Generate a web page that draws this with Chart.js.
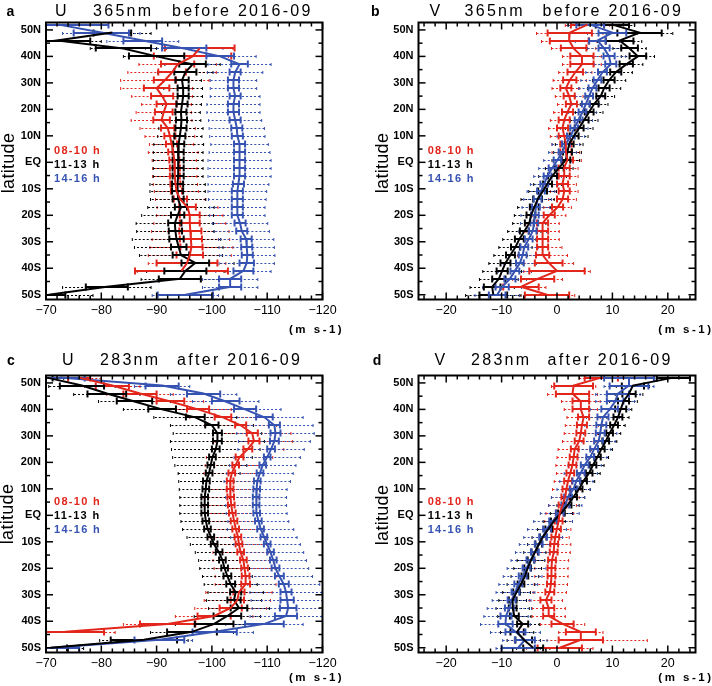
<!DOCTYPE html>
<html>
<head>
<meta charset="utf-8">
<script src="https://cdn.jsdelivr.net/npm/chart.js@4"></script>
<style>
  body { margin: 0; background: #fff; }
  #wrap { position: relative; width: 712px; height: 686px; overflow: hidden; }
  canvas { position: absolute; }
</style>
</head>
<body>
<div id="wrap">
  <canvas id="pa"></canvas>
  <canvas id="pb"></canvas>
  <canvas id="pc"></canvas>
  <canvas id="pd"></canvas>
</div>
<script>
// latitude of each bin centre (deg, + = N)
const lats = [52, 49, 46, 43, 40, 37, 34, 31, 28, 25, 22, 19, 16, 13, 10, 7, 4, 1,
  -2, -5, -8, -11, -14, -17, -20, -23, -26, -29, -32, -35, -38, -41, -44, -47, -50];

const latTicks = [50, 40, 30, 20, 10, 0, -10, -20, -30, -40, -50];
const uTicks = [-70, -80, -90, -100, -110, -120];
const vTicks = [-20, -10, 0, 10, 20];
const seriesNames = ["08-10 h", "11-13 h", "14-16 h"];

// panel a : U 365nm before 2016-09  (mean, thick bar half width, dotted half width)
const aRedMean = [null, null, null, -97.8, -96.5, -93.8, -92.8, -91.5, -90.0, -91.0, -91.8, -91.3, -90.9, -92.0, -92.4, -92.7, -93.0, -93.2, -93.3, -93.3, -93.4, -93.6, -94.3, -95.6, -96.0, -96.0, -96.1, -96.2, -96.3, -96.0, -95.5, -94.5, null, null, null];
const aRedSe = [null, null, null, 6.3, 7, 3, 2.5, 2, 2.3, 2, 1.8, 1.6, 1.5, 1.2, 1, 1, 0.9, 0.9, 0.9, 0.9, 0.9, 1, 1.2, 1.5, 1.8, 1.8, 2, 2, 2, 2.4, 5.5, 8.4, null, null, null];
const aRedSd = [null, null, null, 6, 6.5, 7, 8, 8, 6.5, 5.5, 4.5, 5, 5.5, 5, 4.5, 4, 4.5, 4, 4, 4, 4, 4, 4.5, 5.5, 6, 6.5, 7, 7, 7.5, 7.5, 7, 8, null, null, null];
const aBlackMean = [null, -82, -72, -84, -90, -96.5, -95.2, -94.6, -94.8, -94.8, -94.6, -94.4, -94.5, -94.4, -94.2, -94.0, -93.9, -93.9, -93.9, -93.9, -93.8, -93.8, -93.9, -94.4, -93.8, -93.3, -93.4, -93.6, -94.0, -94.4, -97.0, -95.2, -94.2, -81, -70.5];
const aBlackSe = [null, 3.4, 6, 5, 5, 2.4, 2, 1.2, 1, 1, 1, 1, 1, 1, 1, 1, 1, 1, 1, 1, 1, 1, 1, 1.1, 1.2, 1.2, 1.2, 1.3, 1.4, 1.5, 2.5, 3.8, 3.8, 3.8, 3];
const aBlackSd = [null, 7, 8, 6, 6, 5, 5, 3.5, 3.5, 3.5, 3.5, 3.5, 3.5, 4, 4, 4.5, 4.5, 4.5, 4.5, 4.5, 5, 5, 5, 6, 6.5, 7, 7, 8, 8, 7.5, 7, 7, 7, 8, 8];
const aBlueMean = [-72.3, -80, -87.5, -95, -101.5, -105, -104.2, -103.9, -103.9, -104.2, -103.9, -103.9, -104.2, -104.5, -104.6, -105, -105, -105, -105, -105, -104.8, -104.6, -104.6, -104.6, -104.6, -105.1, -105.4, -106.2, -106.3, -106.4, -106.3, -105.7, -103.3, -103.3, -95.2];
const aBlueSe = [9, 5, 3.5, 4, 2.5, 1.5, 1, 1, 1, 1, 1, 1, 1, 1, 1, 1, 1, 1, 1, 1, 1, 1, 1, 1, 1, 1, 1, 1, 1, 1, 1.3, 1.8, 2, 2, 5];
const aBlueSd = [9, 7, 6.5, 7, 6.5, 5.7, 5, 4.2, 4.2, 4.5, 4.8, 4.8, 4.8, 5, 5, 5.2, 5.5, 5.7, 5.7, 5.7, 5.5, 5.3, 5.2, 5, 5, 5, 5, 5, 5, 5, 5, 5, 5, 5, 6];

// panel b : V 365nm before 2016-09
const bRedMean = [5.5, 2.3, 2.2, 3.0, 4.5, 4.5, 3.3, 2.3, 1.6, 2.2, 2.6, 1.9, 1.3, 1.0, 1.3, 1.6, 1.6, 1.9, 1.3, 1.3, 1.0, 1.3, 1.0, 0.1, -1.4, -2.6, -2.6, -2.6, -2.6, -2.6, -1.5, 0.0, -3.5, -6.5, -1.8];
const bRedSe = [3, 4, 3.5, 2.3, 2.1, 2.1, 1.4, 1.2, 1, 1, 1, 1, 1, 1, 1, 1, 1, 1, 1, 1, 1, 1, 1, 1, 1, 1, 1, 1, 1, 1.2, 2.5, 5, 3, 3.2, 4];
const bRedSd = [4, 6, 5, 4, 3.5, 3.5, 3, 3, 2.5, 2.5, 2.5, 2.5, 2.5, 2.5, 2.5, 2.5, 2.5, 2.5, 2.5, 2.5, 2.5, 2.5, 2.5, 2.5, 3, 3, 3, 3, 3.5, 4.5, 4.5, 6, 4.5, 4.5, 5];
const bBlackMean = [10, 14.9, 11.3, 13.1, 14.6, 12.5, 10.6, 9.4, 8.5, 7.9, 6.7, 5.8, 4.9, 4.0, 3.1, 2.2, 1.9, 1.6, 0.4, -0.8, -1.7, -2.6, -3.5, -4.1, -4.7, -5.0, -5.9, -6.8, -7.5, -8.4, -9.3, -9.9, -10.5, -11.7, -11.5];
const bBlackSe = [3, 4, 2.5, 1.5, 1.5, 1.2, 1, 1, 1, 0.8, 0.8, 0.8, 0.8, 0.8, 0.8, 0.8, 0.8, 0.8, 0.8, 0.8, 0.8, 0.8, 0.8, 0.8, 0.8, 0.8, 0.8, 0.8, 0.8, 0.8, 0.9, 1, 1.2, 1.5, 2.5];
const bBlackSd = [4, 6, 4, 3, 3, 3, 3, 3, 3, 2.5, 2.5, 2.5, 2.5, 2.5, 2.5, 2.5, 2.5, 2.5, 2.5, 2.5, 2.5, 2.5, 3, 3, 3, 3, 3, 3, 3, 3, 3, 3.5, 3.5, 4, 5];
const bBlueMean = [6, 10, 7.3, 8.5, 9.4, 9.7, 8.2, 7.3, 6.4, 5.8, 5.2, 4.6, 3.9, 3.1, 2.5, 1.6, 1.0, 0.1, -0.8, -1.7, -2.3, -2.9, -3.5, -3.8, -4.0, -4.1, -4.4, -5.1, -5.9, -6.2, -6.7, -7.6, -8.5, -9.9, -10.8];
const bBlueSe = [2.5, 2.5, 1.5, 1, 1, 1, 0.8, 0.7, 0.7, 0.7, 0.7, 0.7, 0.7, 0.7, 0.7, 0.7, 0.7, 0.7, 0.7, 0.7, 0.7, 0.7, 0.7, 0.7, 0.7, 0.7, 0.7, 0.7, 0.7, 0.7, 0.7, 0.8, 1, 1.2, 1.5];
const bBlueSd = [4, 4.5, 4, 3, 3, 3, 3, 3, 2.5, 2.5, 2.5, 2.5, 2.5, 2.5, 2.5, 2.5, 2.5, 2.5, 2.5, 2.5, 2.5, 2.5, 2.5, 2.5, 2.5, 2.5, 2.5, 2.5, 2.5, 2.5, 3, 3, 3, 3.5, 4];

// panel c : U 283nm after 2016-09
const cRedMean = [-76, -82, -87, -92.5, -97.5, -102, -105.2, -107.3, -107.6, -106.5, -105, -104.3, -103.6, -103.3, -103.3, -103.4, -103.5, -103.7, -104, -104.3, -104.7, -104.9, -105.2, -105.7, -105.9, -106.1, -106.1, -104.9, -104.6, -103.4, -100.4, -92, -73.5, null, null];
const cRedSe = [2, 3, 3, 2.5, 2, 1.5, 1, 1, 1, 0.8, 0.7, 0.6, 0.6, 0.6, 0.6, 0.6, 0.6, 0.6, 0.6, 0.6, 0.6, 0.6, 0.6, 0.6, 0.6, 0.7, 0.8, 1, 1.2, 2, 3, 5, 7, null, null];
const cRedSd = [4, 5, 6, 6, 6, 6, 6.5, 7, 7, 6.5, 6, 5.5, 5, 5, 5, 5, 5, 5, 5, 5, 5, 5, 5, 5.5, 5.5, 5.5, 5.5, 6, 6, 6.5, 7, 8, 9, null, null];
const cBlackMean = [-70.2, -76.5, -81, -86, -91, -97, -100, -101, -101, -100.7, -100.1, -99.8, -99.5, -99, -98.9, -98.7, -98.7, -98.7, -98.9, -99.2, -99.8, -100.4, -101.3, -101.9, -102.3, -102.8, -103.4, -104.3, -104, -104.9, -102.8, -100.4, -96.4, -87.7, -70.8];
const cBlackSe = [1, 4, 3.5, 3.2, 2.5, 1.7, 1.2, 0.8, 0.8, 0.7, 0.6, 0.6, 0.6, 0.6, 0.6, 0.6, 0.6, 0.6, 0.6, 0.6, 0.6, 0.6, 0.6, 0.6, 0.6, 0.7, 0.8, 1, 1.2, 1.5, 2.5, 3.5, 4.5, 6, 3];
const cBlackSd = [3, 6, 6, 6.5, 7, 7.5, 7.5, 8, 8.5, 8, 7.2, 6.5, 5.6, 5, 4.8, 4.5, 4.5, 4.5, 4.5, 4.5, 4.3, 4.3, 4.3, 4.3, 4.5, 4.5, 4.8, 5, 5, 5.5, 6, 7, 7.5, 8, 6];
const cBlueMean = [-72.5, -91, -98.5, -102.5, -106, -109.5, -111.3, -111.5, -111.3, -110.7, -110, -109.2, -108.7, -108.2, -108.1, -108, -108, -108.1, -108.4, -108.8, -109.4, -110, -110.6, -111.1, -111.5, -112.2, -113, -113.4, -113.6, -113.8, -113.4, -109.5, -100.5, -90.5, -71];
const cBlueSe = [4.5, 3, 3, 2.5, 2, 1.5, 1, 0.9, 0.8, 0.7, 0.6, 0.6, 0.6, 0.6, 0.6, 0.6, 0.6, 0.6, 0.6, 0.6, 0.6, 0.6, 0.6, 0.6, 0.7, 0.8, 0.9, 1, 1.2, 1.5, 2, 3.5, 4, 4.5, 5];
const cBlueSd = [5, 5, 6, 6, 6.5, 7, 7, 7, 6.5, 6, 6, 6, 6, 6, 5.5, 5.5, 5.5, 5.5, 5.5, 6, 6, 6, 6, 6, 6, 6, 6.5, 6.5, 6.5, 6.5, 6.5, 7, 7, 6, 5];

// panel d : V 283nm after 2016-09
const dRedMean = [8, 3.0, 2.8, 4.3, 4.3, 4.8, 4.5, 4.3, 4.0, 3.2, 3.0, 2.8, 2.4, 2.0, 1.7, 1.5, 1.0, 0.5, 0.3, 0, -0.3, -0.5, -0.6, -0.9, -1.0, -1.0, -1.1, -1.3, -2.0, -1.5, -1.5, 1.0, 4.3, 4.3, 0.5];
const dRedSe = [3, 3.5, 3, 1.5, 1.5, 1, 0.9, 0.8, 0.8, 0.7, 0.7, 0.7, 0.7, 0.7, 0.7, 0.7, 0.7, 0.7, 0.7, 0.7, 0.7, 0.7, 0.7, 0.7, 0.7, 0.7, 0.7, 0.8, 1, 1, 1, 2, 2.7, 4, 4];
const dRedSd = [4, 4, 4.5, 3.5, 3, 3, 3, 3, 3, 3, 3, 3, 2.5, 2.5, 2.5, 2.5, 2.5, 2.5, 2.5, 2.5, 2.5, 3, 3, 3, 3, 3, 3, 3, 3, 3, 3, 4, 4, 12, 6];
const dBlackMean = [21, 13.7, 13, 12, 11.5, 11, 10.3, 9.5, 8.8, 8.0, 7.3, 6.5, 5.8, 4.8, 4.0, 3.0, 2.0, 0.8, -0.5, -1.5, -2.5, -3.3, -4.0, -4.7, -5.3, -5.8, -6.5, -7.3, -8.0, -8.0, -7.7, -6.2, -7.2, -6.0, -4.3];
const dBlackSe = [3, 2, 1.2, 1, 1, 0.8, 0.7, 0.6, 0.6, 0.6, 0.6, 0.6, 0.6, 0.6, 0.6, 0.6, 0.6, 0.6, 0.6, 0.6, 0.6, 0.6, 0.6, 0.6, 0.6, 0.6, 0.6, 0.6, 0.7, 0.7, 0.8, 1, 1.2, 1.5, 1.8];
const dBlackSd = [3, 3, 2.5, 2.5, 2, 2, 2, 2, 2, 2, 2, 2, 2, 2, 2, 2, 2, 2, 2, 2, 2, 2, 2, 2.5, 2.5, 2.5, 2.5, 2.5, 2.5, 3, 3, 3, 3, 3, 3];
const dBlueMean = [13, 13, 11, 10.5, 9.5, 8.3, 8.0, 7.8, 7.5, 6.7, 6.0, 5.0, 4.3, 3.5, 3.0, 2.0, 1.5, 0.5, -0.7, -1.8, -2.5, -3.3, -4.0, -4.8, -5.5, -6.2, -7.0, -7.5, -8.2, -8.6, -9.2, -9.3, -7.5, -5.8, -7.0];
const dBlueSe = [4.5, 3.5, 2, 1.5, 1.5, 1, 0.9, 0.8, 0.8, 0.7, 0.7, 0.7, 0.7, 0.7, 0.7, 0.7, 0.7, 0.7, 0.7, 0.7, 0.7, 0.7, 0.7, 0.7, 0.7, 0.7, 0.7, 0.7, 0.7, 0.8, 1, 1.3, 1.8, 1.8, 3];
const dBlueSd = [5, 4.5, 4, 3.5, 3.5, 3, 3, 3, 3, 3, 3, 3, 3, 3, 3, 3, 3, 3.5, 3.5, 3.5, 3.5, 3.5, 3.5, 3.5, 3.5, 3.5, 3.5, 3.5, 3.5, 4, 4, 4.5, 4.5, 4, 4];

const RED = "#e2261c", BLACK = "#000000", BLUE = "#3753b2";
const FONT = "'Liberation Sans', Arial, sans-serif";

const panels = [
  {
    id: "pa", left: 0, top: 0, w: 356, h: 340, plot: { l: 46, r: 322.5, t: 22.5, b: 299.5 },
    xMin: -120, xMax: -70, reverse: true, xTicks: uTicks, letter: "a", letterPos: [6.5, 15.5],
    title: [["U", 9], ["365nm", 47], ["before 2016-09", 126]], titleY: 16,
    legendX: 54, legendY: [154, 167.7, 181.7], latX: 14, latY: 163, unitX: 341.7, unitY: 333,
    series: [
      { color: RED, mean: aRedMean, se: aRedSe, sd: aRedSd },
      { color: BLACK, mean: aBlackMean, se: aBlackSe, sd: aBlackSd },
      { color: BLUE, mean: aBlueMean, se: aBlueSe, sd: aBlueSd }
    ]
  },
  {
    id: "pb", left: 356, top: 0, w: 356, h: 340, plot: { l: 62.5, r: 339.5, t: 22.5, b: 299.5 },
    xMin: -25, xMax: 25, reverse: false, xTicks: vTicks, letter: "b", letterPos: [15, 15.5],
    title: [["V", 11], ["365nm", 46], ["before 2016-09", 124]], titleY: 16,
    legendX: 71.7, legendY: [154, 167.7, 181.7], latX: 31.7, latY: 163, unitX: 355, unitY: 333,
    series: [
      { color: RED, mean: bRedMean, se: bRedSe, sd: bRedSd },
      { color: BLACK, mean: bBlackMean, se: bBlackSe, sd: bBlackSd },
      { color: BLUE, mean: bBlueMean, se: bBlueSe, sd: bBlueSd }
    ]
  },
  {
    id: "pc", left: 0, top: 340, w: 356, h: 346, plot: { l: 46, r: 322.5, t: 35.5, b: 312.5 },
    xMin: -120, xMax: -70, reverse: true, xTicks: uTicks, letter: "c", letterPos: [7, 25],
    title: [["U", 16], ["283nm", 54], ["after 2016-09", 131]], titleY: 25,
    legendX: 54, legendY: [165, 179.3, 193.3], latX: 13.3, latY: 174, unitX: 341.7, unitY: 341,
    series: [
      { color: RED, mean: cRedMean, se: cRedSe, sd: cRedSd },
      { color: BLACK, mean: cBlackMean, se: cBlackSe, sd: cBlackSd },
      { color: BLUE, mean: cBlueMean, se: cBlueSe, sd: cBlueSd }
    ]
  },
  {
    id: "pd", left: 356, top: 340, w: 356, h: 346, plot: { l: 62.5, r: 339.5, t: 35.5, b: 312.5 },
    xMin: -25, xMax: 25, reverse: false, xTicks: vTicks, letter: "d", letterPos: [16.7, 25],
    title: [["V", 16], ["283nm", 52.5], ["after 2016-09", 129]], titleY: 25,
    legendX: 71.7, legendY: [165, 179.3, 193.3], latX: 31.7, latY: 175, unitX: 355, unitY: 341,
    series: [
      { color: RED, mean: dRedMean, se: dRedSe, sd: dRedSd },
      { color: BLACK, mean: dBlackMean, se: dBlackSe, sd: dBlackSd },
      { color: BLUE, mean: dBlueMean, se: dBlueSe, sd: dBlueSd }
    ]
  }
];

function latLabel(v) {
  if (v === 0) return "EQ";
  return v > 0 ? v + "N" : (-v) + "S";
}

function numLabel(v) {
  return v < 0 ? "\u2212" + (-v) : String(v);
}

function hLine(ctx, x1, x2, y) {
  ctx.beginPath();
  ctx.moveTo(x1, y);
  ctx.lineTo(x2, y);
  ctx.stroke();
}

function vLine(ctx, x, y1, y2) {
  ctx.beginPath();
  ctx.moveTo(x, y1);
  ctx.lineTo(x, y2);
  ctx.stroke();
}

function drawBars(ctx, xs, ys, s, half, dotted) {
  ctx.strokeStyle = s.color;
  lats.forEach((lat, i) => {
    const m = s.mean[i], h = half[i];
    if (m === null || h === null) return;
    const py = Math.round(ys.getPixelForValue(lat)) + (dotted ? 0.5 : 0);
    const x1 = xs.getPixelForValue(m - h);
    const x2 = xs.getPixelForValue(m + h);
    if (dotted) {
      ctx.lineWidth = 1;
      ctx.setLineDash([2, 2]);
      hLine(ctx, x1, x2, py);
      ctx.setLineDash([]);
      vLine(ctx, x1, py - 1.5, py + 1.5);
      vLine(ctx, x2, py - 1.5, py + 1.5);
    } else {
      ctx.lineWidth = 2;
      hLine(ctx, x1, x2, py);
      vLine(ctx, x1, py - 3.5, py + 3.5);
      vLine(ctx, x2, py - 3.5, py + 3.5);
    }
  });
}

function makePlugin(p) {
  return {
    id: "panelDecor",
    beforeDatasetsDraw(chart) {
      const { ctx, chartArea: ca, scales: { x, y } } = chart;
      ctx.save();
      ctx.beginPath();
      ctx.rect(ca.left, ca.top, ca.right - ca.left, ca.bottom - ca.top);
      ctx.clip();
      p.series.forEach(s => drawBars(ctx, x, y, s, s.sd, true));
      p.series.forEach(s => drawBars(ctx, x, y, s, s.se, false));
      ctx.restore();
    },
    afterDatasetsDraw(chart) {
      const { ctx, chartArea: ca, scales: { x, y } } = chart;
      ctx.save();
      ctx.strokeStyle = "#000";
      ctx.lineWidth = 1.5;
      // inward tick marks on all four sides
      for (let v = Math.ceil(p.xMin / 2) * 2; v <= p.xMax; v += 2) {
        const px = x.getPixelForValue(v);
        const len = v % 10 === 0 ? 7 : 4;
        vLine(ctx, px, ca.bottom, ca.bottom - len);
        vLine(ctx, px, ca.top, ca.top + len);
      }
      for (let v = -50; v <= 50; v += 5) {
        const py = y.getPixelForValue(v);
        const len = v % 10 === 0 ? 7 : 4;
        hLine(ctx, ca.left, ca.left + len, py);
        hLine(ctx, ca.right, ca.right - len, py);
      }
      ctx.lineWidth = 2;
      ctx.strokeRect(ca.left, ca.top, ca.right - ca.left, ca.bottom - ca.top);
      ctx.restore();
    },
    afterDraw(chart) {
      const ctx = chart.ctx;
      ctx.save();
      ctx.textBaseline = "alphabetic";
      ctx.textAlign = "left";
      ctx.fillStyle = "#000";

      ctx.font = "bold 14px " + FONT;
      ctx.fillText(p.letter, p.letterPos[0], p.letterPos[1]);

      ctx.font = "16px " + FONT;
      ctx.letterSpacing = "2.3px";
      p.title.forEach(([t, dx]) => ctx.fillText(t, p.plot.l + dx, p.titleY));

      ctx.font = "bold 11px " + FONT;
      ctx.letterSpacing = "1.3px";
      p.series.forEach((s, i) => {
        ctx.fillStyle = s.color;
        ctx.fillText(seriesNames[i], p.legendX, p.legendY[i]);
      });

      ctx.fillStyle = "#000";
      ctx.font = "bold 11.5px " + FONT;
      ctx.letterSpacing = "2.5px";
      ctx.textAlign = "right";
      ctx.fillText("(m s-1)", p.unitX + 2.5, p.unitY);

      ctx.letterSpacing = "0.3px";
      ctx.font = "18px " + FONT;
      ctx.textAlign = "center";
      ctx.translate(p.latX, p.latY);
      ctx.rotate(-Math.PI / 2);
      ctx.fillText("latitude", 0, 0);
      ctx.restore();
    }
  };
}

panels.forEach(p => {
  const cv = document.getElementById(p.id);
  cv.width = p.w;
  cv.height = p.h;
  cv.style.left = p.left + "px";
  cv.style.top = p.top + "px";

  const datasets = p.series.map((s, i) => ({
    label: seriesNames[i],
    data: lats.map((lat, k) => ({ x: s.mean[k], y: lat })).filter(pt => pt.x !== null),
    borderColor: s.color,
    backgroundColor: s.color,
    borderWidth: 2,
    pointRadius: 0,
    tension: 0,
    clip: 0
  }));

  new Chart(cv, {
    type: "line",
    data: { datasets },
    options: {
      responsive: false,
      animation: false,
      devicePixelRatio: 1,
      layout: { padding: { left: 0, top: p.plot.t, right: p.w - p.plot.r, bottom: 0 } },
      plugins: { legend: { display: false }, tooltip: { enabled: false }, title: { display: false } },
      scales: {
        x: {
          type: "linear",
          min: p.xMin,
          max: p.xMax,
          reverse: p.reverse,
          afterFit: s => { s.height = p.h - p.plot.b; },
          afterBuildTicks: s => { s.ticks = p.xTicks.map(v => ({ value: v })); },
          grid: { display: false, drawTicks: false },
          border: { display: false },
          ticks: {
            autoSkip: false, maxRotation: 0, padding: 4, color: "#000",
            font: { family: FONT, size: 12.5 },
            callback: v => numLabel(v)
          }
        },
        y: {
          type: "linear",
          min: -51.8,
          max: 52.8,
          afterFit: s => { s.width = p.plot.l; },
          afterBuildTicks: s => { s.ticks = latTicks.map(v => ({ value: v })); },
          grid: { display: false, drawTicks: false },
          border: { display: false },
          ticks: {
            autoSkip: false, padding: 5, color: "#000",
            font: { family: FONT, size: 11, weight: "bold" },
            callback: v => latLabel(v)
          }
        }
      }
    },
    plugins: [makePlugin(p)]
  });
});
</script>
</body>
</html>
